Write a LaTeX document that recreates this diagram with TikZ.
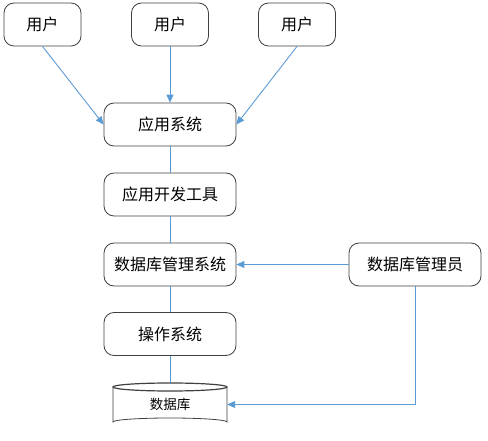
\documentclass[tikz,border=0pt]{standalone}
\usepackage{fontspec}
\setmainfont{Noto Sans CJK SC}
\usetikzlibrary{arrows.meta}
\definecolor{linkblue}{HTML}{5B9BD5}
\definecolor{boxline}{HTML}{404040}
\tikzset{
  box/.style={draw=boxline, line width=0.8pt, rounded corners=10pt, minimum height=43pt, inner sep=0pt, font=\fontsize{16}{19}\selectfont, fill=white},
  wide/.style={box, minimum width=132pt},
  small/.style={box, minimum width=77pt},
  link/.style={draw=linkblue, line width=0.9pt},
  arr/.style={link, -{Triangle[length=8pt,width=7pt]}},
}
\begin{document}
\begin{tikzpicture}[x=1pt,y=-1pt]
\useasboundingbox (0,0) rectangle (488,441);
\node[small] (u1) at (42.5,24.5) {用户};
\node[small] (u2) at (170,24.5) {用户};
\node[small] (u3) at (297,24.5) {用户};
\node[wide] (app) at (170,124.5) {应用系统};
\node[wide] (tool) at (170,194.5) {应用开发工具};
\node[wide] (dbms) at (170,264.5) {数据库管理系统};
\node[wide] (dba) at (415,264.5) {数据库管理员};
\node[wide] (os) at (170,334) {操作系统};
% database cylinder
\draw[boxline, line width=0.8pt, fill=white] (113,387) -- (113,422) arc[start angle=180, end angle=360, x radius=57, y radius=4] -- (227,387);
\draw[boxline, line width=1.2pt, fill=white] (170,387) ellipse[x radius=57, y radius=4];
\node[minimum width=114pt, minimum height=43pt, inner sep=0pt, font=\fontsize{13.5}{16}\selectfont] (db) at (170,404.5) {数据库};
% connectors
\draw[arr] (u1.south) -- (app.west);
\draw[arr] (u2.south) -- (app.north);
\draw[arr] (u3.south) -- (app.east);
\draw[link] (app.south) -- (tool.north);
\draw[link] (tool.south) -- (dbms.north);
\draw[link] (dbms.south) -- (os.north);
\draw[link] (os.south) -- (db.north);
\draw[arr] (dba.west) -- (dbms.east);
\draw[arr] (dba.south) |- (db.east);
\end{tikzpicture}
\end{document}
